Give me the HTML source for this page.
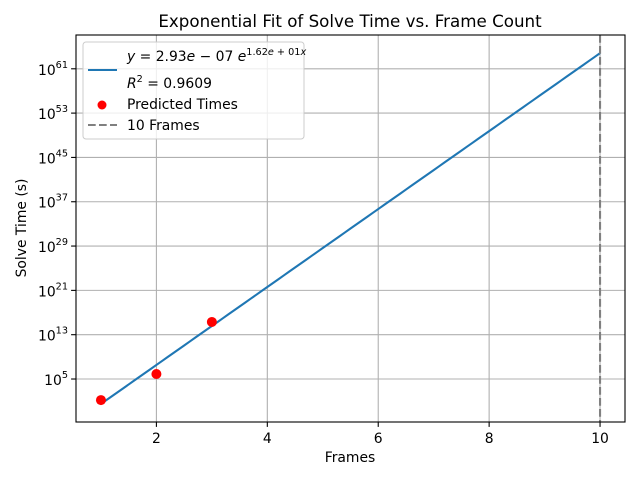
<!DOCTYPE html>
<html><head><meta charset="utf-8"><style>
body{margin:0;background:#fff;}
svg{display:block;font-family:"DejaVu Sans","Liberation Sans",sans-serif;}
</style></head><body>
<svg id="chart" width="640" height="480" viewBox="0 0 640 480">
<rect width="640" height="480" fill="#fff"/>
<text x="350" y="27" font-size="16.7" text-anchor="middle">Exponential Fit of Solve Time vs. Frame Count</text>
<g id="grid"></g>
<g id="ticks"></g>
<g id="series"></g>
<rect x="76" y="35" width="549" height="387" fill="none" stroke="#000" stroke-width="1.1"/>
<text x="350" y="462" font-size="13.9" text-anchor="middle">Frames</text>
<text transform="translate(26,228) rotate(-90)" font-size="13.9" text-anchor="middle">Solve Time (s)</text>
<g>
<rect x="83" y="42" width="221" height="97" rx="3" fill="#fff" fill-opacity="0.8" stroke="#ccc"/>
<line x1="88" y1="70" x2="117" y2="70" stroke="#1f77b4" stroke-width="2.1"/>
<text x="127" y="61" font-size="13.9"><tspan font-style="italic">y</tspan> = 2.93<tspan font-style="italic">e</tspan> − 07 <tspan font-style="italic">e</tspan><tspan font-size="9.7" dy="-6">1.62<tspan font-style="italic">e</tspan> + 01<tspan font-style="italic">x</tspan></tspan></text>
<text x="127" y="88" font-size="13.9"><tspan font-style="italic">R</tspan><tspan font-size="9.7" dy="-6">2</tspan><tspan dy="6"> = 0.9609</tspan></text>
<circle cx="102" cy="105" r="4.5" fill="red"/>
<text x="127" y="109" font-size="13.9">Predicted Times</text>
<line x1="88" y1="125" x2="117" y2="125" stroke="#808080" stroke-width="2.1" stroke-dasharray="7.7,3.3"/>
<text x="127" y="130" font-size="13.9">10 Frames</text>
</g>
</svg>
<script>
const xTicks=[2,4,6,8,10];
const yTickExps=[5,13,21,29,37,45,53,61];
const frames=[1,2,3];
const predictedExp=[1.2,5.9,15.3];
const fitA=2.93e-7, fitB=16.2;
const vlineX=10;
const NS="http://www.w3.org/2000/svg";
const L=76,R=625,T=35,B=422,xmin=0.55,xmax=10.45,emin=-2.76,emax=67.1;
const sx=v=>L+(v-xmin)/(xmax-xmin)*(R-L);
const sy=e=>B-(e-emin)/(emax-emin)*(B-T);
function mk(tag,attrs,parent){const el=document.createElementNS(NS,tag);for(const k in attrs)el.setAttribute(k,attrs[k]);parent.appendChild(el);return el;}
const grid=document.getElementById('grid'),ticks=document.getElementById('ticks'),series=document.getElementById('series');
xTicks.forEach(v=>{const x=sx(v);
 let g=mk('line',{x1:x,y1:T,x2:x,y2:B,stroke:'#b0b0b0','stroke-width':1.1},grid);
 
 
 let t=mk('line',{x1:x,y1:B,x2:x,y2:B+4.9,stroke:'#000','stroke-width':1.1},ticks);
 
 
 let l=mk('text',{x:x,y:B+21,'font-size':13.9,'text-anchor':'middle'},ticks);l.textContent=v;
 
 
});
yTickExps.forEach(e=>{const y=sy(e);
 let g=mk('line',{x1:L,y1:y,x2:R,y2:y,stroke:'#b0b0b0','stroke-width':1.1},grid);
 
 
 let t=mk('line',{x1:L-4.9,y1:y,x2:L,y2:y,stroke:'#000','stroke-width':1.1},ticks);
 
 
 let l=mk('text',{x:L-8,y:y+6,'font-size':13.9,'text-anchor':'end'},ticks);
 l.innerHTML='10<tspan font-size="9.7" dy="-7">'+e+'</tspan>';
 
 
});
const pts=[];for(let i=0;i<=90;i++){const x=1+i*0.1;const e=Math.log10(fitA)+fitB*x/Math.LN10;pts.push(sx(x)+','+sy(e));}
let fl=mk('polyline',{points:pts.join(' '),fill:'none',stroke:'#1f77b4','stroke-width':2.1},series);


frames.forEach((f,i)=>{let c=mk('circle',{cx:sx(f),cy:sy(predictedExp[i]),r:5,fill:'red'},series);
 
 
});
let vl=mk('line',{x1:sx(vlineX),y1:T,x2:sx(vlineX),y2:B,stroke:'#808080','stroke-width':2.1,'stroke-dasharray':'7.7,3.3'},series);


</script>
</body></html>
